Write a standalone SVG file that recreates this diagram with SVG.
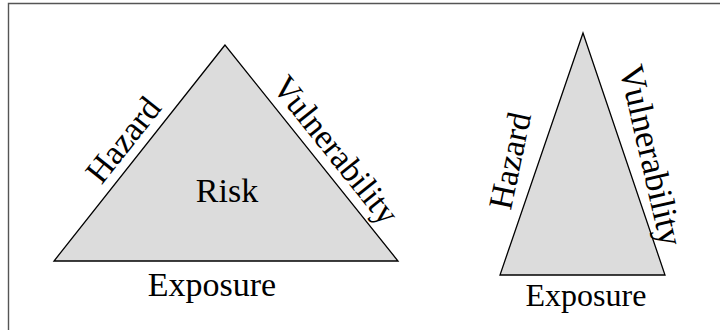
<svg xmlns="http://www.w3.org/2000/svg" width="720" height="330" viewBox="0 0 720 330">
<style>
.tri{fill:#dcdcdc;stroke:#000;stroke-width:1.3;stroke-linejoin:miter}
.lbl{font-family:"Liberation Serif","Times New Roman",serif;font-size:34px;fill:#000;text-anchor:middle}
.frame{stroke:#555;stroke-width:1.4;fill:none}
</style>
<rect width="720" height="330" fill="#fff"/>
<g id="frame">
<path class="frame" d="M8.5,330 V3.5 H720"/>
</g>
<g id="risk-triangle">
<polygon class="tri" points="225,45 54,261 398,261"/>
<text class="lbl" x="227" y="201.5">Risk</text>
<text class="lbl" transform="translate(132,147) rotate(-51.6)">Hazard</text>
<text class="lbl" transform="translate(327,157) rotate(51.3)">Vulnerability</text>
<text class="lbl" x="212" y="295.5">Exposure</text>
</g>
<g id="narrow-triangle">
<polygon class="tri" points="583,33 500,275 665,275"/>
<text class="lbl" transform="translate(521,163) rotate(-78)">Hazard</text>
<text class="lbl" style="font-size:35px" transform="translate(640,158) rotate(77)">Vulnerability</text>
<text class="lbl" style="font-size:32px" x="586" y="306">Exposure</text>
</g>
</svg>
